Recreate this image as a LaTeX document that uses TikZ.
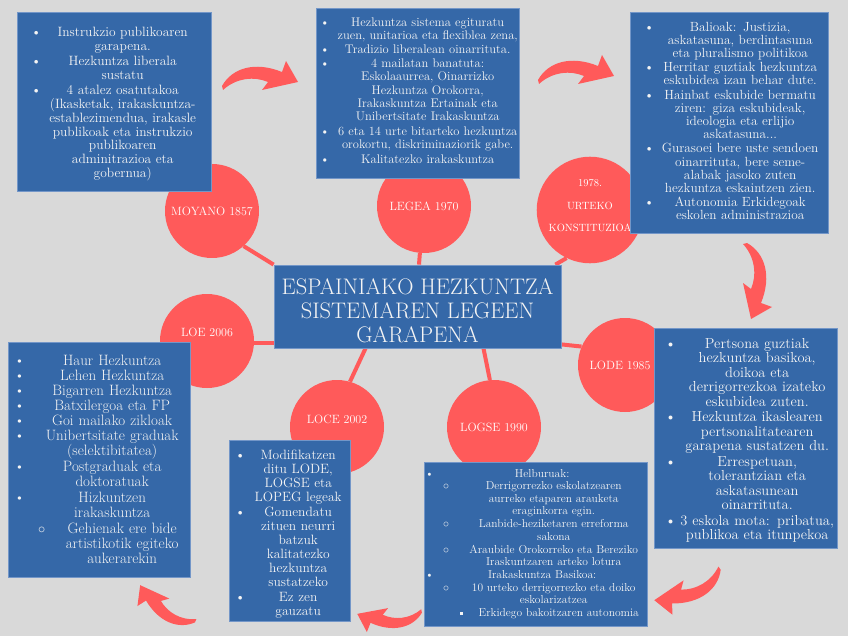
\documentclass[tikz,border=0pt]{standalone}
\usetikzlibrary{backgrounds}
\definecolor{bgc}{HTML}{D9D9D9}
\definecolor{bluebox}{HTML}{3568A8}
\definecolor{redc}{HTML}{FF5A5A}
\definecolor{bordc}{HTML}{7396C8}
\definecolor{txtc}{HTML}{F4F4F4}
\lineskip=0pt\relax
\lineskiplimit=0pt\relax
\newcommand\bul[5]{\par\noindent\makebox[#1][l]{\hspace*{#2}#3}\makebox[#4]{\begin{tabular}[t]{@{}c@{}}#5\end{tabular}}\par}
\newcommand\bt{\textbullet}
\newcommand\bc{$\circ$}
\newcommand\bsq{\rule[0.2em]{0.25em}{0.25em}}
\tikzset{
  box/.style={rectangle, fill=bluebox, draw=bordc, line width=0.8pt, inner sep=0pt},
  txt/.style={anchor=north west, inner sep=0pt, text=txtc, align=left},
  circ/.style={circle, fill=redc, minimum size=94pt, inner sep=0pt, text=white, font=\fontsize{12}{14}\selectfont},
  conn/.style={draw=redc, line width=4pt},
  carrow/.pic={\fill[redc] (0,-2) .. controls (10,-20) and (33,-27) .. (60,-16) -- (64,-27) -- (76,-6) -- (40,2) -- (46,-6) .. controls (32,-12) and (14,-10) .. (1,2) -- cycle;}
}
\begin{document}
\begin{tikzpicture}[x=1pt,y=-1pt]
\useasboundingbox (0,0) rectangle (848,636);
\begin{scope}[on background layer]
  \fill[bgc] (0,0) rectangle (848,636);
\end{scope}
% circles
\node[circ] (moy) at (212,211) {MOYANO 1857};
\node[circ] (leg) at (424,206) {LEGEA 1970};
\node[circ, font=\fontsize{10.5}{22.5}\selectfont] (kon) at (590,210) {\raisebox{5pt}[\height][\depth]{\begin{tabular}{@{}c@{}}1978.\\URTEKO\\KONSTITUZIOA\end{tabular}}};
\node[circ] (loe) at (207,341) {\raisebox{9pt}[\height][\depth]{LOE 2006}};
\node[circ] (loce) at (337,427) {\raisebox{8pt}[\height][\depth]{LOCE 2002}};
\node[circ] (logse) at (494,427) {LOGSE 1990};
\node[circ] (lode) at (625,365) {\hspace*{-10pt}LODE 1985};
% centre
\node[box, minimum width=287pt, minimum height=83pt, text=txtc, align=center, font=\fontsize{22.5}{24}\selectfont] (c) at (417.5,306.5) {\rule{0pt}{24pt}ESPAINIAKO HEZKUNTZA\\SISTEMAREN LEGEEN\\GARAPENA};
% connectors
\begin{scope}[on background layer]
  \draw[conn] (c.north west) -- (moy.-48);
  \draw[conn] ([xshift=1.5pt]c.north) -- (leg.-95);
  \draw[conn] ([xshift=-6pt]c.north east) -- (kon.-116);
  \draw[conn] (loe.-3) -- (c.west |- loe.-3);
  \draw[conn] ([xshift=-52pt]c.south) -- (loce.74);
  \draw[conn] ([xshift=66pt]c.south) -- (logse.95);
  \draw[conn] ([yshift=4pt]c.south east) -- (lode.157);
\end{scope}
% boxes
\node[box, minimum width=194pt, minimum height=179pt] (b1) at (114,101.5) {};
\node[txt, text width=172pt, font=\fontsize{13.5}{13.8}\selectfont] (t1) at (31,23) {%
\bul{11pt}{0pt}{\bt}{161pt}{Instrukzio publikoaren\\garapena.}
\bul{11pt}{0pt}{\bt}{161pt}{Hezkuntza liberala\\sustatu}
\bul{11pt}{0pt}{\bt}{161pt}{4 atalez osatutakoa\\(Ikasketak, irakaskuntza-\\establezimendua, irakasle\\publikoak eta instrukzio\\publikoaren\\adminitrazioa eta\\gobernua)}};

\node[box, minimum width=203pt, minimum height=170pt] (b2) at (417.5,93) {};
\node[txt, text width=199pt, font=\fontsize{12.5}{13.4}\selectfont] (t2) at (320,12.5) {%
\bul{16pt}{0pt}{\bt}{183pt}{Hezkuntza sistema egituratu\\zuen, unitarioa eta flexiblea zena,}
\bul{16pt}{0pt}{\bt}{183pt}{Tradizio liberalean oinarrituta.}
\bul{16pt}{0pt}{\bt}{183pt}{4 mailatan banatuta:\\Eskolaaurrea, Oinarrizko\\Hezkuntza Orokorra,\\Irakaskuntza Ertainak eta\\Unibertsitate Irakaskuntza}
\bul{16pt}{0pt}{\bt}{183pt}{6 eta 14 urte bitarteko hezkuntza\\orokortu, diskriminaziorik gabe.}
\bul{16pt}{0pt}{\bt}{183pt}{Kalitatezko irakaskuntza}};

\node[box, minimum width=198pt, minimum height=221pt] (b3) at (729,122.5) {};
\node[txt, text width=182pt, font=\fontsize{13.3}{13.1}\selectfont] (t3) at (644,18) {%
\bul{10pt}{0pt}{\bt}{172pt}{Balioak: Justizia,\\askatasuna, berdintasuna\\eta pluralismo politikoa}
\bul{10pt}{0pt}{\bt}{172pt}{Herritar guztiak hezkuntza\\eskubidea izan behar dute.}
\bul{10pt}{0pt}{\bt}{172pt}{Hainbat eskubide bermatu\\ziren: giza eskubideak,\\ideologia eta erlijio\\askatasuna...}
\bul{10pt}{0pt}{\bt}{172pt}{Gurasoei bere uste sendoen\\oinarrituta, bere seme-\\alabak jasoko zuten\\hezkuntza eskaintzen zien.}
\bul{10pt}{0pt}{\bt}{172pt}{Autonomia Erkidegoak\\eskolen administrazioa}};

\node[box, minimum width=182pt, minimum height=235pt] (b4) at (99,459.5) {};
\node[txt, text width=173pt, font=\fontsize{15}{15}\selectfont] (t4) at (14,350) {%
\bul{23pt}{0pt}{\bt}{150pt}{Haur Hezkuntza}
\bul{23pt}{0pt}{\bt}{150pt}{Lehen Hezkuntza}
\bul{23pt}{0pt}{\bt}{150pt}{Bigarren Hezkuntza}
\bul{23pt}{0pt}{\bt}{150pt}{Batxilergoa eta FP}
\bul{23pt}{0pt}{\bt}{150pt}{Goi mailako zikloak}
\bul{23pt}{0pt}{\bt}{150pt}{Unibertsitate graduak\\(selektibitatea)}
\bul{23pt}{0pt}{\bt}{150pt}{Postgraduak eta\\doktoratuak}
\bul{23pt}{0pt}{\bt}{150pt}{Hizkuntzen\\irakaskuntza}
\bul{43pt}{24pt}{\bc}{130pt}{Gehienak ere bide\\artistikotik egiteko\\aukerarekin}};

\node[box, minimum width=121pt, minimum height=181pt] (b5) at (289.5,530.5) {};
\node[txt, text width=113pt, font=\fontsize{13.5}{14}\selectfont] (t5) at (235,445) {%
\bul{13pt}{0pt}{\bt}{100pt}{Modifikatzen\\ditu LODE,\\LOGSE eta\\LOPEG legeak}
\bul{13pt}{0pt}{\bt}{100pt}{Gomendatu\\zituen neurri\\batzuk\\kalitatezko\\hezkuntza\\sustatzeko}
\bul{13pt}{0pt}{\bt}{100pt}{Ez zen\\gauzatu}};

\node[box, minimum width=223pt, minimum height=164pt] (b6) at (535.5,544) {};
\node[txt, text width=222pt, font=\fontsize{11.5}{12.3}\selectfont] (t6) at (425,465) {%
\bul{12pt}{0pt}{\bt}{210pt}{Helburuak:}
\bul{35pt}{18pt}{\bc}{187pt}{Derrigorrezko eskolatzearen\\aurreko etaparen arauketa\\eraginkorra egin.}
\bul{35pt}{18pt}{\bc}{187pt}{Lanbide-heziketaren erreforma\\sakona}
\bul{35pt}{18pt}{\bc}{187pt}{Araubide Orokorreko eta Bereziko\\Iraskuntzaren arteko lotura}
\bul{12pt}{0pt}{\bt}{210pt}{Irakaskuntza Basikoa:}
\bul{35pt}{18pt}{\bc}{187pt}{10 urteko derrigorrezko eta doiko\\eskolarizatzea}
\bul{45pt}{35pt}{\bsq}{177pt}{Erkidego bakoitzaren autonomia}};

\node[box, minimum width=183pt, minimum height=220pt] (b7) at (745.5,438) {};
\node[txt, text width=169pt, font=\fontsize{14.5}{14.5}\selectfont] (t7) at (665,333.5) {%
\bul{15pt}{0pt}{\bt}{154pt}{Pertsona guztiak\\hezkuntza basikoa,\\doikoa eta\\derrigorrezkoa izateko\\eskubidea zuten.}
\bul{15pt}{0pt}{\bt}{154pt}{Hezkuntza ikaslearen\\pertsonalitatearen\\garapena sustatzen du.}
\bul{15pt}{0pt}{\bt}{154pt}{Errespetuan,\\tolerantzian eta\\askatasunean\\oinarrituta.}
\bul{15pt}{0pt}{\bt}{154pt}{3 eskola mota: pribatua,\\publikoa eta itunpekoa}};

% curved arrows
\pic at (222,88) {carrow};
\pic at (538,82) {carrow};
\pic[rotate=-90] at (745,243) {carrow};
\pic[rotate=201.6, scale=0.96] at (720,568) {carrow};
\pic[rotate=178, scale=0.85] at (422,611) {carrow};
\pic[rotate=142.8, scale=0.87] at (196,621) {carrow};
\end{tikzpicture}
\end{document}
